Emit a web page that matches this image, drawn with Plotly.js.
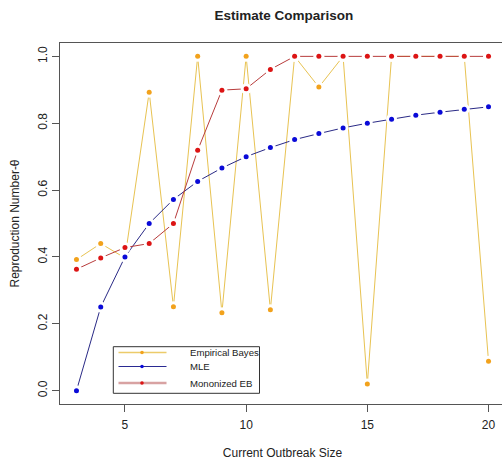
<!DOCTYPE html>
<html>
<head>
<meta charset="utf-8">
<script src="https://cdn.plot.ly/plotly-3.0.1.min.js"></script>
<style>
html, body { margin: 0; padding: 0; overflow: hidden; background: #fff; }
#chart { width: 505px; height: 460px; }
</style>
</head>
<body>
<div id="chart"></div>
<script>
// Data
const outbreakSize = [3, 4, 5, 6, 7, 8, 9, 10, 11, 12, 13, 14, 15, 16, 17, 18, 19, 20];
const empiricalBayes = [0.392, 0.44, 0.397, 0.893, 0.251, 1.0, 0.233, 1.0, 0.242, 1.0, 0.908, 1.0, 0.02, 1.0, 1.0, 1.0, 1.0, 0.088];
const mle = [0.0, 0.25, 0.40, 0.50, 0.572, 0.626, 0.666, 0.70, 0.727, 0.751, 0.769, 0.786, 0.80, 0.812, 0.824, 0.833, 0.842, 0.849];
const monotonizedEB = [0.363, 0.397, 0.428, 0.44, 0.50, 0.719, 0.899, 0.903, 0.961, 1.0, 1.0, 1.0, 1.0, 1.0, 1.0, 1.0, 1.0, 1.0];
const seriesNames = ["Empirical Bayes", "MLE", "Mononized EB"];
const xTicks = [5, 10, 15, 20];
const yTicks = [0.0, 0.2, 0.4, 0.6, 0.8, 1.0];
const yTickText = ["0.0", "0.2", "0.4", "0.6", "0.8", "1.0"];

const series = [
  { y: empiricalBayes, line: "#e8c352", mark: "#f2a21c", legLine: "#eccb6a", legW: 1.5 },
  { y: mle,            line: "#2a2a86", mark: "#0a0ad8", legLine: "#2a2a92", legW: 1.2 },
  { y: monotonizedEB,  line: "#b83c3c", mark: "#dc1414", legLine: "#d8a2a2", legW: 2.6 }
];

// R "type = b" look: line, white halo around each point (gap), then the point
const traces = [];
series.forEach(s => {
  traces.push({ x: outbreakSize, y: s.y, mode: "lines", showlegend: false, hoverinfo: "skip",
                line: { color: s.line, width: 1 } });
  traces.push({ x: outbreakSize, y: s.y, mode: "markers", showlegend: false, hoverinfo: "skip",
                marker: { color: "#ffffff", size: 11, line: { width: 0 } } });
  traces.push({ x: outbreakSize, y: s.y, mode: "markers", showlegend: false,
                marker: { color: s.mark, size: 5, line: { width: 0 } } });
});

const font = { family: "Liberation Sans, Arial, sans-serif", color: "#222" };

// plot-area geometry helpers for the hand-drawn legend box (pixel -> paper)
const L = 60, T = 43, W = 445, H = 361;
const px = v => (v - L) / W;
const py = v => (T + H - v) / H;

const shapes = [{
  type: "rect", xref: "paper", yref: "paper", layer: "above",
  x0: px(113.3), x1: px(259.5), y0: py(393.3), y1: py(346.7),
  line: { color: "#333", width: 1 }, fillcolor: "#fff"
}];
const annotations = [];
const rowY = [352.5, 366.5, 383];
series.forEach((s, i) => {
  shapes.push({ type: "line", xref: "paper", yref: "paper", layer: "above",
    x0: px(118.5), x1: px(166.5), y0: py(rowY[i]), y1: py(rowY[i]),
    line: { color: s.legLine, width: s.legW } });
  shapes.push({ type: "circle", xref: "paper", yref: "paper", layer: "above",
    x0: px(140.2), x1: px(143.8), y0: py(rowY[i] + 1.8), y1: py(rowY[i] - 1.8),
    line: { width: 0 }, fillcolor: s.mark });
  annotations.push({ xref: "paper", yref: "paper", x: px(187.5), y: py(rowY[i]),
    xanchor: "left", yanchor: "middle", showarrow: false, text: seriesNames[i],
    font: Object.assign({ size: 9.6 }, font) });
});

const layout = {
  width: 505, height: 460,
  margin: { l: L, r: 0, t: T, b: 460 - T - H, pad: 0 },
  paper_bgcolor: "#fff", plot_bgcolor: "#fff",
  font: Object.assign({ size: 12 }, font),
  showlegend: false,
  title: { text: "<b>Estimate Comparison</b>", font: Object.assign({ size: 13.5 }, font),
           x: 0.562, xref: "container", xanchor: "center", y: 0.967, yref: "container", yanchor: "middle" },
  xaxis: {
    range: [2.32, 20.68], autorange: false, showgrid: false, zeroline: false,
    showline: true, mirror: true, linecolor: "#555", linewidth: 1,
    ticks: "outside", ticklen: 7, tickcolor: "#555", tickwidth: 1,
    tickvals: xTicks, tickfont: Object.assign({ size: 12 }, font), ticklabelstandoff: 3,
    title: { text: "Current Outbreak Size", font: Object.assign({ size: 12 }, font), standoff: 17 },
    automargin: false
  },
  yaxis: {
    range: [-0.04, 1.04], autorange: false, showgrid: false, zeroline: false,
    showline: true, mirror: true, linecolor: "#555", linewidth: 1,
    ticks: "outside", ticklen: 7, tickcolor: "#555", tickwidth: 1,
    tickvals: yTicks, ticktext: yTickText, tickangle: -90,
    tickfont: Object.assign({ size: 12 }, font),
    title: { text: "Reproduction Number-θ", font: Object.assign({ size: 12 }, font), standoff: 14 },
    automargin: false
  },
  shapes: shapes,
  annotations: annotations
};

Plotly.newPlot("chart", traces, layout, { displayModeBar: false, staticPlot: true });
</script>
</body>
</html>
